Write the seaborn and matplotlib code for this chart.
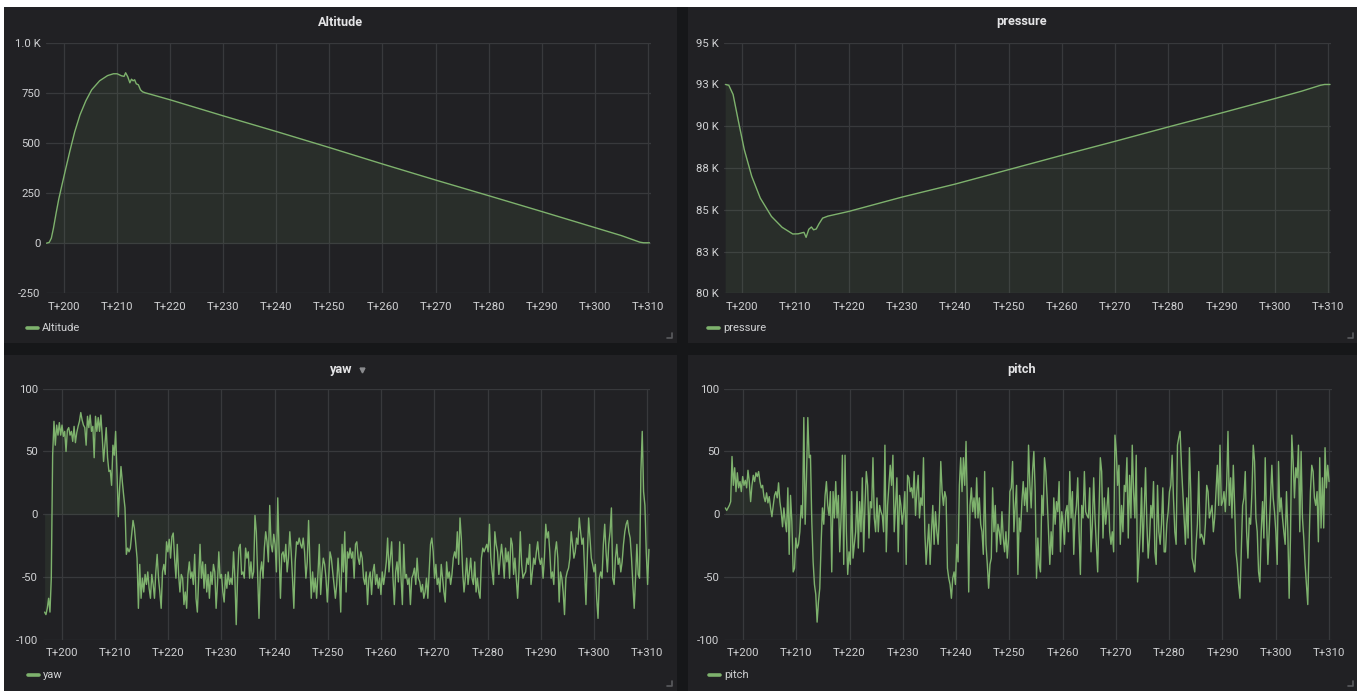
import numpy as np
import pandas as pd
import seaborn as sns
from matplotlib import pyplot as plt
from matplotlib.patches import Rectangle
from matplotlib.lines import Line2D

GREEN = "#7eb26d"
PANEL = "#212124"
PAGE = "#161719"
GRID = "#38393c"
TEXT = "#d0d1d3"

# ---- data ----
altitude_t = [196.7, 197.2, 197.6, 198.0, 198.5, 199.0, 199.6, 200.3, 201.1, 202.0,
              203.0, 204.1, 205.2, 206.7, 208.2, 209.3, 210.0, 210.8, 211.3, 211.6,
              212.0, 212.4, 212.7, 213.0, 213.3, 213.6, 214.0, 214.4, 214.8, 215.3,
              216.0, 220, 230, 240, 250, 260, 270, 280, 290, 300, 305, 308.5, 309.2, 310.3]
altitude_v = [0, 4, 25, 75, 150, 220, 290, 370, 460, 555,
              640, 710, 765, 810, 836, 845, 845, 835, 832, 850,
              830, 800, 818, 810, 815, 795, 790, 765, 755, 750,
              745, 715, 635, 557, 477, 395, 315, 237, 158, 78, 38, 5, 2, 2]

pressure_t = [196.9, 197.5, 198.3, 199.3, 200.4, 201.8, 203.4, 205.5, 207.5, 209.5,
              210.5, 211.6, 212.0, 212.5, 213.0, 213.4, 213.9, 214.4, 215.1, 216.1,
              220, 230, 240, 250, 260, 270, 280, 290, 300, 305, 308.5, 309.3, 310.3]
pressure_v = [92500, 92450, 91900, 90300, 88600, 87000, 85700, 84600, 83950, 83550,
              83560, 83650, 83350, 83830, 83970, 83800, 83850, 84150, 84500, 84620,
              84900, 85760, 86540, 87400, 88260, 89100, 89960, 90800, 91660, 92100,
              92450, 92500, 92500]

yaw_span = (196.8, 310.3)
yaw_v = [
    -78, -80, -75, -67, -78, -51, 47, 74, 55, 71, 63, 73, 63, 71, 62, 66, 50, 67, 69, 63,
    66, 58, 70, 57, 65, 70, 74, 81, 75, 71, 69, 55, 78, 69, 79, 66, 70, 45, 78, 66,
    77, 66, 79, 62, 42, 55, 69, 45, 34, 35, 23, 55, 47, 66, 34, -2, 21, 38, 26, 15,
    5, -32, -27, -30, -27, -16, -5, -11, -23, -35, -75, -40, -67, -51, -62, -48, -56, -46, -59, -67,
    -48, -56, -67, -46, -32, -51, -62, -75, -46, -40, -48, -22, -30, -20, -35, -18, -15, -35, -51, -24,
    -48, -62, -48, -51, -72, -62, -75, -48, -38, -51, -46, -56, -32, -67, -78, -51, -24, -51, -38, -59,
    -40, -62, -48, -67, -46, -56, -40, -46, -75, -56, -30, -51, -48, -62, -70, -48, -59, -46, -56, -51,
    -56, -30, -51, -88, -51, -27, -24, -48, -46, -51, -27, -35, -30, -51, -38, -51, -46, -1, -14, -48,
    -83, -46, -38, -51, -27, -14, -22, -38, 7, -24, -30, -16, -24, -46, 13, -30, -67, -32, -30, -38,
    -24, -46, -35, -14, -30, -51, -75, -38, -22, -24, -19, -24, -27, -19, -30, -51, -38, -5, -38, -67,
    -46, -62, -51, -67, -48, -24, -64, -46, -35, -40, -51, -70, -51, -30, -35, -46, -56, -67, -56,
    -35, -51, -78, -24, -46, -14, -62, -30, -35, -27, -35, -30, -51, -24, -22, -35, -40, -30, -35, -51,
    -56, -46, -72, -51, -46, -64, -46, -40, -56, -48, -59, -51, -64, -46, -56, -48, -38, -19, -46, -35,
    -22, -51, -72, -46, -38, -54, -22, -51, -72, -24, -51, -48, -56, -51, -72, -51, -48, -43, -56, -35,
    -51, -54, -62, -56, -67, -62, -51, -67, -46, -24, -19, -30, -51, -40, -56, -51, -62, -40, -51, -62,
    -70, -38, -51, -46, -56, -48, -35, -30, -35, -14, -40, -3, -19, -46, -62, -51, -35, -56, -46, -35,
    -51, -56, -38, -62, -51, -62, -67, -35, -27, -30, -27, -24, -30, -8, -35, -46, -56, -14, -24, -30,
    -48, -35, -24, -35, -51, -27, -38, -30, -51, -19, -24, -48, -35, -51, -67, -46, -14, -40, -51, -48,
    -46, -35, -40, -24, -56, -46, -35, -40, -30, -22, -35, -40, -35, -51, -35, -8, -19, -14, -30, -51,
    -46, -56, -30, -22, -35, -70, -46, -51, -62, -80, -51, -46, -43, -35, -14, -24, -35, -30, -19, -24,
    -3, -14, -24, -19, -46, -72, -35, -3, -19, -35, -40, -46, -40, -67, -83, -51, -46, -51, -24, -8,
    -30, -46, -24, -14, 5, -51, -56, -35, -24, -40, -35, -46, -38, -24, -14, -8, -5, -14, -19, -35,
    -56, -75, -51, -24, -48, -51, 34, 66, 18, 7, -30, -56, -28,
]

pitch_span = (196.7, 310.0)
pitch_v = [
    5, 3, 5, 7, 10, 46, 23, 37, 18, 33, 21, 26, 18, 30, 23, 27, 21, 35, 26, 10,
    23, 31, 26, 33, 30, 34, 26, 21, 23, 14, 10, 17, 9, 14, 5, -2, 7, 15, 18, 13,
    25, 10, 2, -10, 5, -6, -14, 21, -32, 15, -6, -46, -43, -19, -27, -24, -14, 7, -3, 77,
    -8, 29, 77, 45, 47, -6, -38, -56, -64, -86, -70, -59, -24, 5, -8, 15, 26, 7, -1, 18,
    -46, 18, -3, 26, -3, 15, -30, -3, 47, -40, 47, -14, -48, -30, -40, 18, -35, -24, -14, 18,
    -27, 10, -14, 29, -30, 7, 34, 23, -19, 10, 5, 45, -3, -14, 13, -14, 7, 2, -1, -14,
    55, -30, 7, 23, 39, 23, 47, -14, 7, 29, -30, 15, 7, -8, 2, 18, -40, 31, 29, 18,
    21, 13, 34, -1, 18, 31, -3, 13, 7, 45, -14, -40, -24, -8, -40, -14, 7, -24, 2, -14,
    -24, 2, 42, 18, 7, 18, 13, -43, -51, -56, -67, -51, -46, -56, -24, -38, 23, 45, 18, 45,
    23, 58, 7, -62, 7, 21, 2, 13, -3, 29, -3, 13, -8, -14, -32, 34, -24, -40, -59, -40,
    -35, 21, -14, 7, -30, -8, -14, -24, 2, -19, -30, -14, -35, -19, 18, 21, 42, -14, 7, 23,
    -48, -3,
    -14, 10, 26, 7, 21, 2, 55, 23, 5, 34, 50, 18, -51, -19, -40, -46, 15, -1, 45, 34,
    13, -14, -40, -14, -32, 13, -8, 10, 2, 26, -30, 2, -8, -24, 2, 7, -14, 34, -3, 18,
    -32, -3, 7, 29, -14, -48, 7, -3, 34, 2, -1, -3, 21, -30, -8, 29, -3, -24, -46, 2,
    45, 34, -19, 13, -8, 5, 21, -14, -24, -14, -30, 63, 50, 23, 39, -24, 7, -14, 23, 18,
    45, -19, 31, -3, 55, 18, -3, 47, -54, -35, -14, 21, -30, 2, 37, -8, -35, -19, 7, -3,
    26, -30, -40, 23, -14, -24, -8, 21, -30, -30, -8, 2, 18, 23, 47, 13, -14, -24, 55, 61,
    66, 39, 18, -3, -24, 13, -19, 53, 18, -35, -40, -46, -24, -8, 34, -19, -16, -19, -24, -8,
    23, 18, -3, 2, 7, -14, -3, 18, 39, 7, 55, 7, 10, 18, 2, 23, 66, 7, 29, -3,
    39, 7, -30, -40, -56, -67, -30, 7, 13, 34, -14, -35, -3, -8, 18, 55, 42, -3, -14, -46,
    -54, -14, 10, -19, 45, -3, -40, -14, 13, 39, 13, 2, -14, -40, 42, 2, 13, -3, -14, -24,
    18, -14, -67, -19, 63, 42, 13, 37, 29, 55, -14, 50, -3, -19, -40, -56, -72, -24, 18, 39,
    34, 13, 7, 18, -22, 45, -11, 29, -11, 53, 21, 39, 26,
]

x_ticks = list(range(200, 311, 10))
x_labels = [f"T+{t}" for t in x_ticks]
alt_ticks = [-250, 0, 250, 500, 750, 1000]
alt_labels = ["-250", "0", "250", "500", "750", "1.0 K"]
press_ticks = [80000, 82500, 85000, 87500, 90000, 92500, 95000]
press_labels = ["80 K", "83 K", "85 K", "88 K", "90 K", "93 K", "95 K"]
angle_ticks = [-100, -50, 0, 50, 100]
angle_labels = ["-100", "-50", "0", "50", "100"]

W, H = 1363, 691


def box(x0, y0, x1, y1):
    # pixel box (top-left origin) -> figure fraction [l, b, w, h]
    return [x0 / W, 1 - y1 / H, (x1 - x0) / W, (y1 - y0) / H]


def fx(x):
    return x / W


def fy(y):
    return 1 - y / H


def draw_panel(fig, ax_box, df, yticks, ylabels, ylim, title, title_xy, legend_xy, caret=False):
    ax = fig.add_axes(box(*ax_box))
    ax.set_facecolor(PANEL)
    ax.fill_between(df["t"], df["v"], 0, color=GREEN, alpha=0.09, lw=0)
    sns.lineplot(data=df, x="t", y="v", ax=ax, color=GREEN, lw=1.0)
    ax.set_xlim(196.5, 310.5)
    ax.set_ylim(*ylim)
    ax.set_xticks(x_ticks, x_labels)
    ax.set_yticks(yticks, ylabels)
    ax.grid(True, color=GRID, lw=0.9)
    ax.tick_params(length=0, colors=TEXT, labelsize=8.2)
    ax.tick_params(axis="x", pad=6)
    ax.tick_params(axis="y", pad=3.5)
    for s in ax.spines.values():
        s.set_visible(False)
    ax.set_xlabel("")
    ax.set_ylabel("")

    fig.text(fx(title_xy[0]), fy(title_xy[1]), title, ha="center", va="center",
             color="#e4e4e6", fontsize=9.2, fontweight="semibold")
    if caret:
        fig.add_artist(Line2D([fx(title_xy[0] + 21)], [fy(title_xy[1] + 1)], marker="v",
                              markersize=3.5, color="#8a8b8e", transform=fig.transFigure))
    lx, ly = legend_xy
    fig.add_artist(Line2D([fx(lx), fx(lx + 11)], [fy(ly), fy(ly)], color=GREEN, lw=2.6,
                          transform=fig.transFigure))
    fig.text(fx(lx + 15), fy(ly), title, ha="left", va="center", color=TEXT, fontsize=8)
    return ax


def resize_mark(fig, x, y):
    fig.add_artist(Line2D([fx(x - 5), fx(x), fx(x)], [fy(y), fy(y), fy(y - 5)],
                          color="#5a5b5e", lw=1.2, transform=fig.transFigure))


def main():
    sns.set_theme(style="dark")
    plt.rcParams["font.family"] = ["Roboto", "DejaVu Sans"]

    fig = plt.figure(figsize=(W / 100, H / 100), dpi=100, facecolor="white")
    fig.patches.append(Rectangle((fx(4), 0), fx(1357) - fx(4), fy(7), transform=fig.transFigure,
                                 facecolor=PAGE, edgecolor="none", zorder=-2))
    for p in [(4, 7, 677, 343), (688, 7, 1357, 343), (4, 355, 677, 691), (688, 355, 1357, 691)]:
        b = box(*p)
        fig.patches.append(Rectangle((b[0], b[1]), b[2], b[3], transform=fig.transFigure,
                                     facecolor=PANEL, edgecolor="none", zorder=-1))

    alt = pd.DataFrame({"t": altitude_t, "v": altitude_v})
    prs = pd.DataFrame({"t": pressure_t, "v": pressure_v})
    yaw = pd.DataFrame({"t": np.linspace(*yaw_span, len(yaw_v)), "v": yaw_v})
    pit = pd.DataFrame({"t": np.linspace(*pitch_span, len(pitch_v)), "v": pitch_v})

    draw_panel(fig, (45.5, 42.7, 650.5, 293.3), alt, alt_ticks, alt_labels, (-250, 1000),
               "Altitude", (341, 22), (27, 328))
    draw_panel(fig, (723.5, 42.7, 1331, 293.3), prs, press_ticks, press_labels, (80000, 95000),
               "pressure", (1022, 22), (708, 328))
    draw_panel(fig, (43, 388.7, 650, 639.7), yaw, angle_ticks, angle_labels, (-100, 100),
               "yaw", (341, 369), (28, 675), caret=True)
    draw_panel(fig, (724.3, 388.7, 1331.7, 639.7), pit, angle_ticks, angle_labels, (-100, 100),
               "pitch", (1022, 369), (709, 675))

    resize_mark(fig, 672, 338)
    resize_mark(fig, 1353, 338)
    resize_mark(fig, 672, 686)
    resize_mark(fig, 1353, 686)

    fig.savefig("out.png", dpi=100, facecolor=fig.get_facecolor())


if __name__ == "__main__":
    main()
